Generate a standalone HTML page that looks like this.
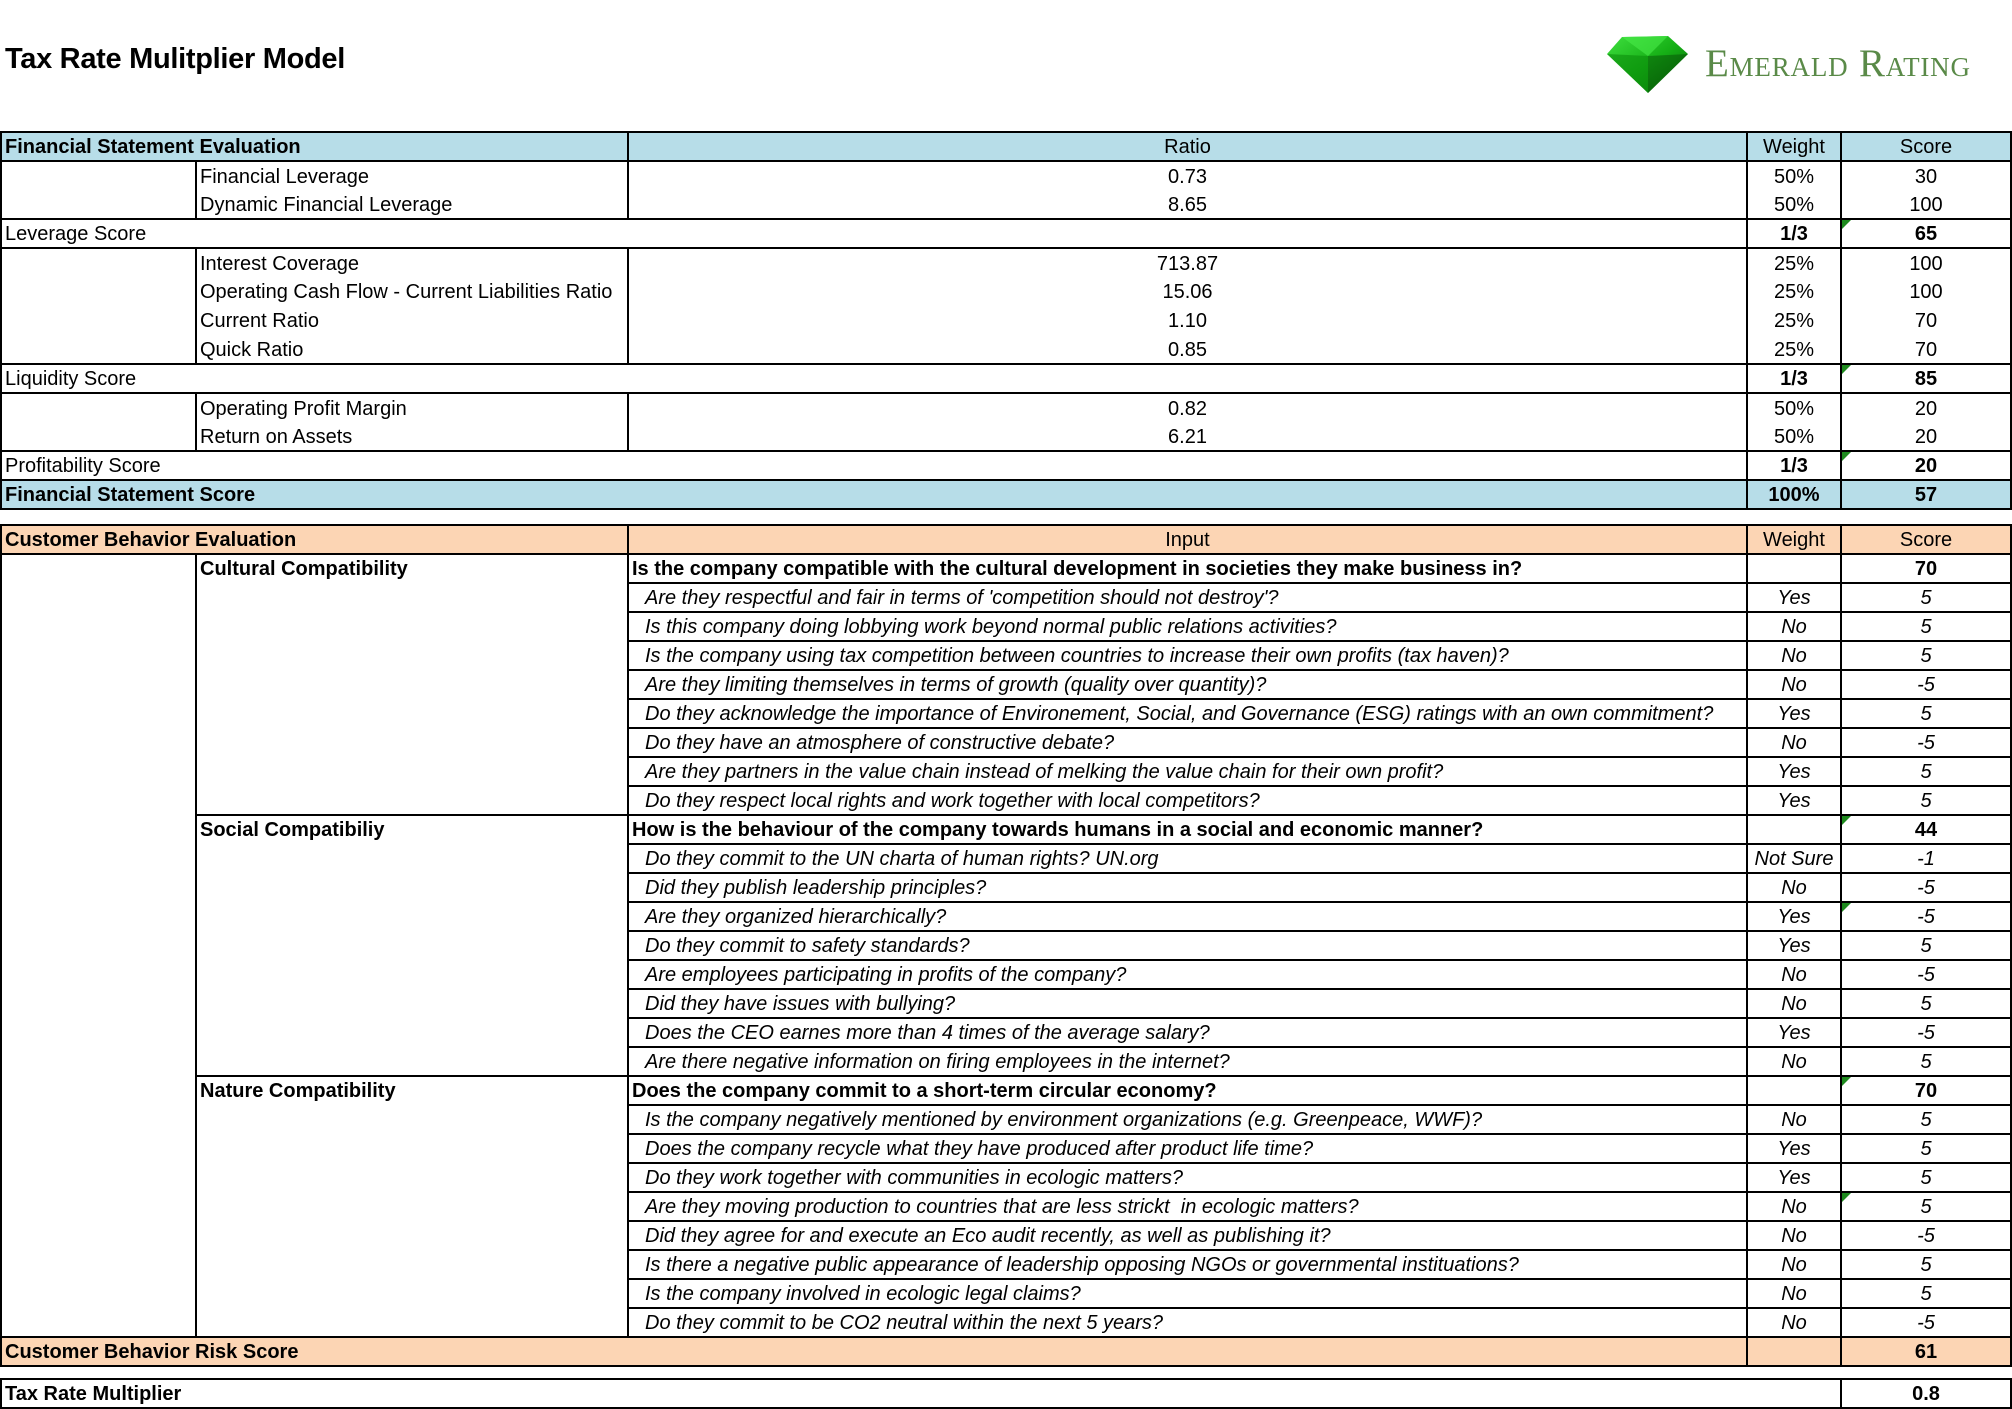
<!DOCTYPE html>
<html><head><meta charset="utf-8">
<style>
html,body{margin:0;padding:0;background:#fff;}
body{width:2012px;height:1409px;position:relative;overflow:hidden;font-family:"Liberation Sans",sans-serif;font-size:20px;color:#000;}
.title{position:absolute;left:5px;top:43px;font-size:29px;font-weight:bold;letter-spacing:-0.3px;}
.logo{position:absolute;left:1705px;top:41px;font-family:"Liberation Serif",serif;font-size:39px;font-variant:small-caps;color:#5a8a48;letter-spacing:0.8px;}
table{position:absolute;left:0;border-collapse:collapse;table-layout:fixed;width:2010px;}
td{border:2px solid #000;padding:0 3px;height:25px;line-height:25px;white-space:nowrap;overflow:hidden;vertical-align:middle;position:relative;padding-top:2px;}
tr{height:29px;}
.c{text-align:center;}
.b{font-weight:bold;}
.i{font-style:italic;}
.blue td{background:#b7dde8;}
.peach td{background:#fcd5b4;}
.nb{border-bottom:none;}
.nt{border-top:none;}
.q{padding-left:16px;}
.top{vertical-align:top;}
.tri::before{content:"";position:absolute;left:0;top:0;border-top:9px solid #1e8a1e;border-right:9px solid transparent;}
</style></head><body>
<div class="title">Tax Rate Mulitplier Model</div>
<svg style="position:absolute;left:1604px;top:34px" width="88" height="62" viewBox="0 0 88 62">
<defs><linearGradient id="g" x1="0" y1="0" x2="1" y2="1"><stop offset="0" stop-color="#3fe03f"/><stop offset="0.5" stop-color="#16b016"/><stop offset="1" stop-color="#056005"/></linearGradient></defs>
<polygon points="18,3 64,2 84,20 44,59 3,20" fill="url(#g)"/>
<polygon points="18,3 64,2 44,22" fill="#4aeb4a" opacity="0.6"/>
<polygon points="3,20 44,22 44,59" fill="#0c8e0c" opacity="0.6"/>
<polygon points="84,20 44,22 44,59" fill="#064f06" opacity="0.5"/>
</svg>
<div class="logo">Emerald Rating</div>

<table style="top:131px">
<colgroup><col style="width:195px"><col style="width:432px"><col style="width:1119px"><col style="width:94px"><col style="width:170px"></colgroup>
<tr class="blue"><td class="b" colspan="2">Financial Statement Evaluation</td><td class="c">Ratio</td><td class="c">Weight</td><td class="c">Score</td></tr>
<tr><td rowspan="2"></td><td class="nb">Financial Leverage</td><td class="c nb">0.73</td><td class="c nb">50%</td><td class="c nb">30</td></tr>
<tr><td class="nt">Dynamic Financial Leverage</td><td class="c nt">8.65</td><td class="c nt">50%</td><td class="c nt">100</td></tr>
<tr><td colspan="3">Leverage Score</td><td class="c b">1/3</td><td class="c b tri">65</td></tr>
<tr><td rowspan="4"></td><td class="nb">Interest Coverage</td><td class="c nb">713.87</td><td class="c nb">25%</td><td class="c nb">100</td></tr>
<tr><td class="nb nt">Operating Cash Flow - Current Liabilities Ratio</td><td class="c nb nt">15.06</td><td class="c nb nt">25%</td><td class="c nb nt">100</td></tr>
<tr><td class="nb nt">Current Ratio</td><td class="c nb nt">1.10</td><td class="c nb nt">25%</td><td class="c nb nt">70</td></tr>
<tr><td class="nt">Quick Ratio</td><td class="c nt">0.85</td><td class="c nt">25%</td><td class="c nt">70</td></tr>
<tr><td colspan="3">Liquidity Score</td><td class="c b">1/3</td><td class="c b tri">85</td></tr>
<tr><td rowspan="2"></td><td class="nb">Operating Profit Margin</td><td class="c nb">0.82</td><td class="c nb">50%</td><td class="c nb">20</td></tr>
<tr><td class="nt">Return on Assets</td><td class="c nt">6.21</td><td class="c nt">50%</td><td class="c nt">20</td></tr>
<tr><td colspan="3">Profitability Score</td><td class="c b">1/3</td><td class="c b tri">20</td></tr>
<tr class="blue"><td class="b" colspan="3">Financial Statement Score</td><td class="c b">100%</td><td class="c b">57</td></tr>
</table>

<table style="top:524px">
<colgroup><col style="width:195px"><col style="width:432px"><col style="width:1119px"><col style="width:94px"><col style="width:170px"></colgroup>
<tr class="peach"><td class="b" colspan="2">Customer Behavior Evaluation</td><td class="c">Input</td><td class="c">Weight</td><td class="c">Score</td></tr>
<tr><td rowspan="27"></td><td rowspan="9" class="b top">Cultural Compatibility</td><td class="b">Is the company compatible with the cultural development in societies they make business in?</td><td></td><td class="c b">70</td></tr>
<tr><td class="i q">Are they respectful and fair in terms of 'competition should not destroy'?</td><td class="c i">Yes</td><td class="c i">5</td></tr>
<tr><td class="i q">Is this company doing lobbying work beyond normal public relations activities?</td><td class="c i">No</td><td class="c i">5</td></tr>
<tr><td class="i q">Is the company using tax competition between countries to increase their own profits (tax haven)?</td><td class="c i">No</td><td class="c i">5</td></tr>
<tr><td class="i q">Are they limiting themselves in terms of growth (quality over quantity)?</td><td class="c i">No</td><td class="c i">-5</td></tr>
<tr><td class="i q">Do they acknowledge the importance of Environement, Social, and Governance (ESG) ratings with an own commitment?</td><td class="c i">Yes</td><td class="c i">5</td></tr>
<tr><td class="i q">Do they have an atmosphere of constructive debate?</td><td class="c i">No</td><td class="c i">-5</td></tr>
<tr><td class="i q">Are they partners in the value chain instead of melking the value chain for their own profit?</td><td class="c i">Yes</td><td class="c i">5</td></tr>
<tr><td class="i q">Do they respect local rights and work together with local competitors?</td><td class="c i">Yes</td><td class="c i">5</td></tr>
<tr><td rowspan="9" class="b top">Social Compatibiliy</td><td class="b">How is the behaviour of the company towards humans in a social and economic manner?</td><td></td><td class="c b tri">44</td></tr>
<tr><td class="i q">Do they commit to the UN charta of human rights? UN.org</td><td class="c i">Not Sure</td><td class="c i">-1</td></tr>
<tr><td class="i q">Did they publish leadership principles?</td><td class="c i">No</td><td class="c i">-5</td></tr>
<tr><td class="i q">Are they organized hierarchically?</td><td class="c i">Yes</td><td class="c i tri">-5</td></tr>
<tr><td class="i q">Do they commit to safety standards?</td><td class="c i">Yes</td><td class="c i">5</td></tr>
<tr><td class="i q">Are employees participating in profits of the company?</td><td class="c i">No</td><td class="c i">-5</td></tr>
<tr><td class="i q">Did they have issues with bullying?</td><td class="c i">No</td><td class="c i">5</td></tr>
<tr><td class="i q">Does the CEO earnes more than 4 times of the average salary?</td><td class="c i">Yes</td><td class="c i">-5</td></tr>
<tr><td class="i q">Are there negative information on firing employees in the internet?</td><td class="c i">No</td><td class="c i">5</td></tr>
<tr><td rowspan="9" class="b top">Nature Compatibility</td><td class="b">Does the company commit to a short-term circular economy?</td><td></td><td class="c b tri">70</td></tr>
<tr><td class="i q">Is the company negatively mentioned by environment organizations (e.g. Greenpeace, WWF)?</td><td class="c i">No</td><td class="c i">5</td></tr>
<tr><td class="i q">Does the company recycle what they have produced after product life time?</td><td class="c i">Yes</td><td class="c i">5</td></tr>
<tr><td class="i q">Do they work together with communities in ecologic matters?</td><td class="c i">Yes</td><td class="c i">5</td></tr>
<tr><td class="i q">Are they moving production to countries that are less strickt&nbsp; in ecologic matters?</td><td class="c i">No</td><td class="c i tri">5</td></tr>
<tr><td class="i q">Did they agree for and execute an Eco audit recently, as well as publishing it?</td><td class="c i">No</td><td class="c i">-5</td></tr>
<tr><td class="i q">Is there a negative public appearance of leadership opposing NGOs or governmental instituations?</td><td class="c i">No</td><td class="c i">5</td></tr>
<tr><td class="i q">Is the company involved in ecologic legal claims?</td><td class="c i">No</td><td class="c i">5</td></tr>
<tr><td class="i q">Do they commit to be CO2 neutral within the next 5 years?</td><td class="c i">No</td><td class="c i">-5</td></tr>
<tr class="peach"><td class="b" colspan="3">Customer Behavior Risk Score</td><td></td><td class="c b">61</td></tr>
</table>

<table style="top:1378px">
<colgroup><col style="width:195px"><col style="width:432px"><col style="width:1119px"><col style="width:94px"><col style="width:170px"></colgroup>
<tr><td class="b" colspan="4">Tax Rate Multiplier</td><td class="c b">0.8</td></tr>
</table>
</body></html>
